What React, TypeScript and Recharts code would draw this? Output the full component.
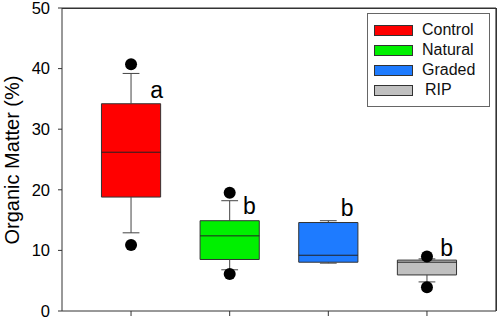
import {
    CartesianGrid,
    ComposedChart,
    Legend,
    ReferenceArea,
    ReferenceLine,
    Scatter,
    XAxis,
    YAxis,
} from "recharts";

const GROUPS = ["Control", "Natural", "Graded", "RIP"];
const COLORS = ["#FF0000", "#00F000", "#1E7BFF", "#C0C0C0"];

// box stats
const WHISKER_LOW = [12.9, 6.8, 7.9, 4.8];
const Q1 = [18.8, 8.5, 8.05, 5.95];
const MEDIAN = [26.2, 12.4, 9.2, 8.05];
const Q3 = [34.2, 14.9, 14.6, 8.4];
const WHISKER_HIGH = [39.2, 18.2, 14.9, 8.6];
const OUTLIERS_LOW = [10.9, 6.1, null, 3.9];
const OUTLIERS_HIGH = [40.7, 19.5, null, 9.0];

// significance letters
const LETTERS = ["a", "b", "b", "b"];
const LETTER_X = [1.26, 2.2, 3.19, 4.2];
const LETTER_Y = [36.5, 17.4, 17.0, 10.4];

const Y_TICKS = [0, 10, 20, 30, 40, 50];
const X_MIN = 0.3;
const X_MAX = 4.7;
const Y_MIN = 0;
const Y_MAX = 50;

const BOX_HALF = 0.3;
const CAP_HALF = 0.085;
const FONT = "Arial, 'Liberation Sans', sans-serif";

const outlierData = GROUPS.flatMap((_, i) => {
    const pts: { x: number; y: number }[] = [];
    if (OUTLIERS_LOW[i] != null) pts.push({ x: i + 1, y: OUTLIERS_LOW[i] as number });
    if (OUTLIERS_HIGH[i] != null) pts.push({ x: i + 1, y: OUTLIERS_HIGH[i] as number });
    return pts;
});

const letterData = LETTERS.map((l, i) => ({ x: LETTER_X[i], y: LETTER_Y[i], letter: l }));

function LegendBox() {
    return (
        <div
            style={{
                border: "1.5px solid #666",
                background: "#fff",
                padding: "6px 0 0 6px",
                boxSizing: "border-box",
                width: 123,
                height: 94,
                fontFamily: FONT,
            }}
        >
            {GROUPS.map((g, i) => (
                <div key={g} style={{ display: "flex", alignItems: "center", height: 20 }}>
                    <div
                        style={{
                            width: 39,
                            height: 11,
                            background: COLORS[i],
                            border: "1px solid #333",
                            boxSizing: "border-box",
                        }}
                    />
                    <span
                        style={{
                            marginLeft: g === "RIP" ? 12 : 9,
                            fontSize: 16,
                            color: "#111",
                            lineHeight: "20px",
                        }}
                    >
                        {g}
                    </span>
                </div>
            ))}
        </div>
    );
}

export default function App() {
    return (
        <div style={{ position: "absolute", left: 0, top: 0, width: 498, height: 319, background: "#fff" }}>
            <ComposedChart width={498} height={319} margin={{ top: 8, right: 2, left: 0, bottom: 0 }}>
                {/* top + right edges of the frame */}
                <CartesianGrid
                    horizontalValues={[Y_MAX]}
                    verticalValues={[X_MAX]}
                    stroke="#333"
                    strokeWidth={1.2}
                    strokeDasharray="0"
                />
                <XAxis
                    type="number"
                    dataKey="x"
                    domain={[X_MIN, X_MAX]}
                    ticks={[1, 2, 3, 4]}
                    tickFormatter={() => ""}
                    height={8}
                    tickSize={5}
                    axisLine={{ stroke: "#333" }}
                    tickLine={{ stroke: "#333" }}
                    allowDataOverflow
                />
                <YAxis
                    type="number"
                    dataKey="y"
                    domain={[Y_MIN, Y_MAX]}
                    ticks={Y_TICKS}
                    interval={0}
                    width={62}
                    tickSize={4}
                    tickMargin={8}
                    axisLine={{ stroke: "#333" }}
                    tickLine={{ stroke: "#333" }}
                    tick={{ fill: "#000", fontSize: 16.5, fontFamily: FONT }}
                    allowDataOverflow
                    label={{
                        content: () => (
                            <text
                                x={12}
                                y={160}
                                transform="rotate(-90, 12, 160)"
                                textAnchor="middle"
                                dominantBaseline="central"
                                fontSize={20}
                                fontFamily={FONT}
                                fill="#000"
                            >
                                Organic Matter (%)
                            </text>
                        ),
                    }}
                />
                <Legend
                    layout="vertical"
                    align="center"
                    verticalAlign="middle"
                    content={() => <LegendBox />}
                    wrapperStyle={{ left: 367, top: 13, width: 123, height: 94 }}
                />
                {GROUPS.map((g, i) => {
                    const x = i + 1;
                    return [
                        <ReferenceLine key={g + "wl"} segment={[{ x, y: WHISKER_LOW[i] }, { x, y: Q1[i] }]} stroke="#444" strokeWidth={1} ifOverflow="visible" />,
                        <ReferenceLine key={g + "wh"} segment={[{ x, y: Q3[i] }, { x, y: WHISKER_HIGH[i] }]} stroke="#444" strokeWidth={1} ifOverflow="visible" />,
                        <ReferenceLine key={g + "cl"} segment={[{ x: x - CAP_HALF, y: WHISKER_LOW[i] }, { x: x + CAP_HALF, y: WHISKER_LOW[i] }]} stroke="#444" strokeWidth={1} ifOverflow="visible" />,
                        <ReferenceLine key={g + "ch"} segment={[{ x: x - CAP_HALF, y: WHISKER_HIGH[i] }, { x: x + CAP_HALF, y: WHISKER_HIGH[i] }]} stroke="#444" strokeWidth={1} ifOverflow="visible" />,
                        <ReferenceArea key={g + "box"} x1={x - BOX_HALF} x2={x + BOX_HALF} y1={Q1[i]} y2={Q3[i]} fill={COLORS[i]} fillOpacity={1} stroke="#333" strokeWidth={1} ifOverflow="visible" />,
                        <ReferenceLine key={g + "med"} segment={[{ x: x - BOX_HALF, y: MEDIAN[i] }, { x: x + BOX_HALF, y: MEDIAN[i] }]} stroke="#222" strokeWidth={1} ifOverflow="visible" />,
                    ];
                })}
                <Scatter
                    data={outlierData}
                    dataKey="y"
                    isAnimationActive={false}
                    shape={(p: any) => <circle cx={p.cx} cy={p.cy} r={6} fill="#000" />}
                />
                <Scatter
                    data={letterData}
                    dataKey="y"
                    isAnimationActive={false}
                    shape={(p: any) => (
                        <text
                            x={p.cx}
                            y={p.cy}
                            textAnchor="middle"
                            dominantBaseline="central"
                            fontSize={23}
                            fontFamily={FONT}
                            fill="#000"
                        >
                            {p.payload.letter}
                        </text>
                    )}
                />
            </ComposedChart>
            <div
                style={{
                    position: "absolute",
                    left: 62,
                    top: 8,
                    width: 435,
                    height: 303,
                    borderTop: "1px solid #333",
                    borderRight: "1px solid #333",
                    boxSizing: "border-box",
                    pointerEvents: "none",
                    zIndex: 10,
                }}
            />
        </div>
    );
}
